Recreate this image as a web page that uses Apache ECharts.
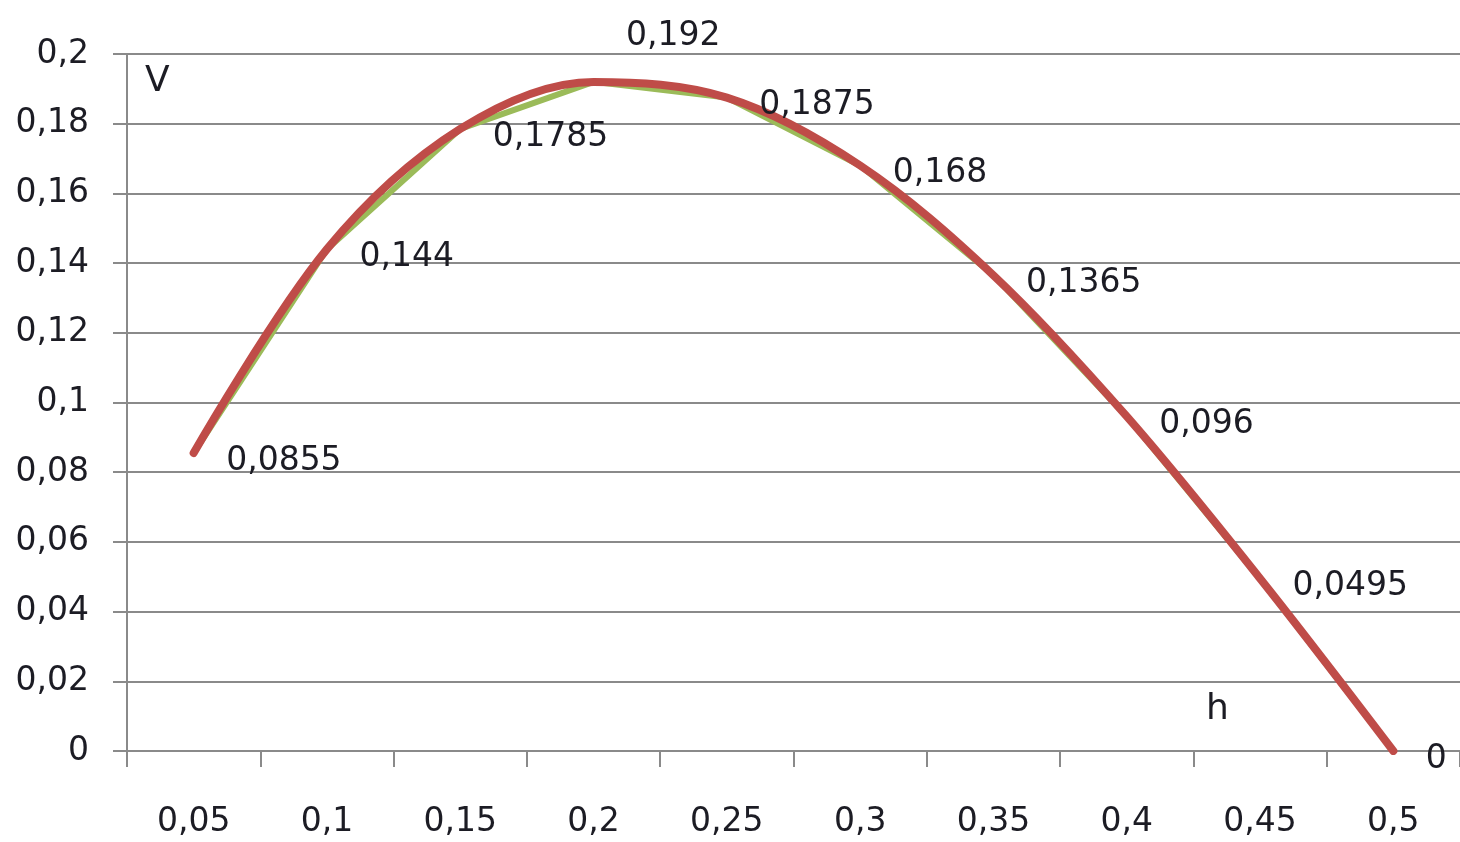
<!DOCTYPE html>
<html>
<head>
<meta charset="utf-8">
<script src="https://cdn.jsdelivr.net/npm/echarts@6/dist/echarts.min.js"></script>
<style>
  html, body { margin: 0; padding: 0; background: #fff; }
  #chart { width: 1460px; height: 842px; }
</style>
</head>
<body>
<div id="chart"></div>
<script>
// h values (category axis) and the volume V for each
const hLabels = ['0,05', '0,1', '0,15', '0,2', '0,25', '0,3', '0,35', '0,4', '0,45', '0,5'];
const vValues = [0.0855, 0.144, 0.1785, 0.192, 0.1875, 0.168, 0.1365, 0.096, 0.0495, 0];

const fontFamily = '"DejaVu Sans", sans-serif';
const textColor = '#1c1c24';
const gridColor = '#8a8a8a';
const peakIndex = 3;

const comma = v => String(+(+v).toFixed(4)).replace('.', ',');

const chart = echarts.init(document.getElementById('chart'));
chart.setOption({
  animation: false,
  backgroundColor: '#ffffff',
  grid: { left: 127, right: 0, top: 54, bottom: 91, containLabel: false },
  xAxis: {
    type: 'category',
    data: hLabels,
    boundaryGap: true,
    axisLine: { lineStyle: { color: gridColor, width: 2 } },
    axisTick: { show: true, length: 16, lineStyle: { color: gridColor, width: 2 } },
    axisLabel: { color: textColor, fontSize: 33, fontFamily, margin: 55 },
    splitLine: { show: false }
  },
  yAxis: {
    type: 'value',
    min: 0,
    max: 0.2,
    interval: 0.02,
    axisLine: { show: true, lineStyle: { color: gridColor, width: 2 } },
    axisTick: { show: true, length: 14, lineStyle: { color: gridColor, width: 2 } },
    axisLabel: {
      color: textColor, fontSize: 33, fontFamily, margin: 38,
      formatter: v => String(+v.toFixed(2)).replace('.', ',')
    },
    splitLine: { lineStyle: { color: gridColor, width: 2 } }
  },
  graphic: [
    { type: 'text', left: 145, top: 64, style: { text: 'V', fontSize: 36, fontFamily, fill: textColor } },
    { type: 'text', left: 1206, top: 692, style: { text: 'h', fontSize: 36, fontFamily, fill: textColor } }
  ],
  series: [
    {
      type: 'line',
      data: vValues,
      smooth: false,
      symbol: 'none',
      lineStyle: { color: '#9bbb59', width: 6 },
      z: 2
    },
    {
      type: 'line',
      data: vValues,
      smooth: 0.34,
      symbol: 'circle',
      symbolSize: 1,
      showSymbol: true,
      itemStyle: { color: 'rgba(0,0,0,0)' },
      lineStyle: { color: '#bf4c48', width: 8, cap: 'round' },
      label: {
        show: true,
        position: 'right',
        distance: 32,
        color: textColor,
        fontSize: 33,
        fontFamily,
        formatter: p => comma(p.value)
      },
      // the peak label sits above its point, the rest slightly below-right
      labelLayout: p => ({ hideOverlap: false, dy: p.dataIndex === peakIndex ? -45 : 8 }),
      z: 3
    }
  ]
});
</script>
</body>
</html>
